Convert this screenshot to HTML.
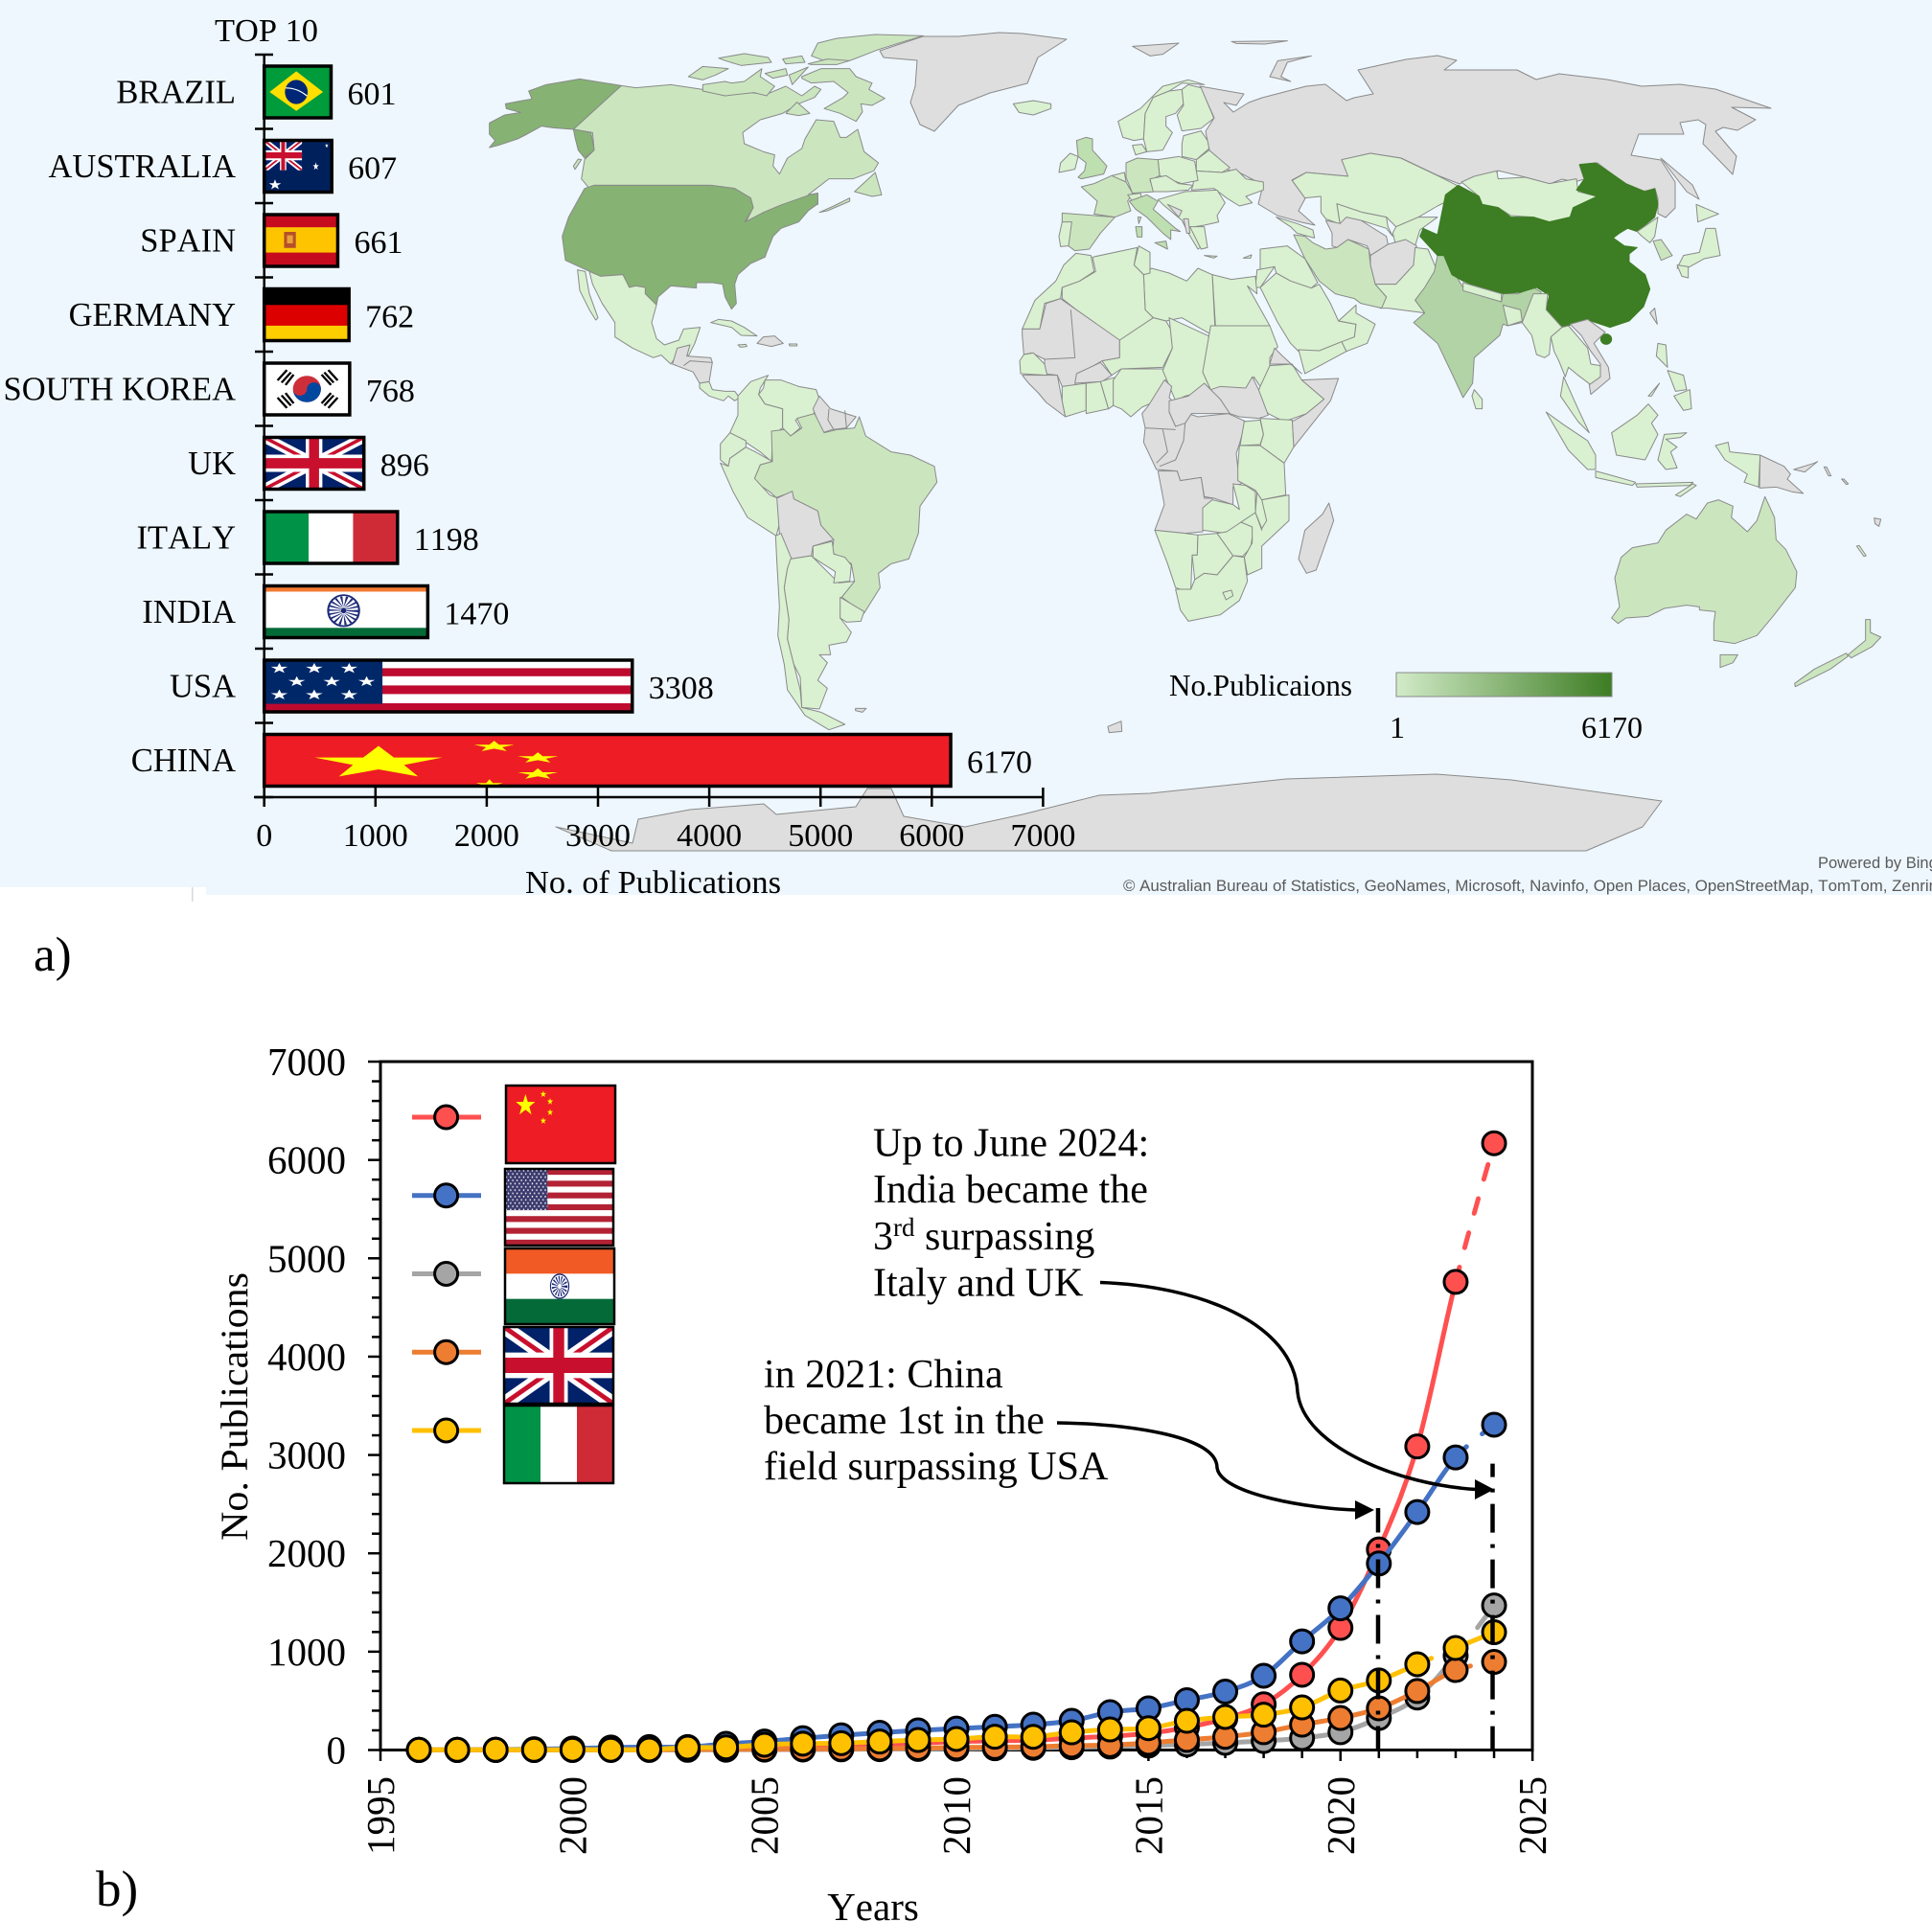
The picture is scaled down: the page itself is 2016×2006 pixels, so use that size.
<!DOCTYPE html>
<html lang="en">
<head>
<meta charset="utf-8">
<title>Publications by country</title>
<style>
html,body{margin:0;padding:0;background:#fff;}
svg{display:block;}
text{font-family:"Liberation Serif",serif;fill:#000;font-kerning:none;}
.credit{font-family:"Liberation Sans",sans-serif;fill:#5a5a5a;}
.map polygon,.map ellipse,.map polyline{stroke:#8a8a8a;stroke-width:1;vector-effect:non-scaling-stroke;stroke-linejoin:round;}
.map polyline{fill:none;}
.g{fill:#dedede;}
.l{fill:#d9f1d0;}
.m{fill:#cbe6bf;}
.h{fill:#bedfb0;}
.u{fill:#86b274;}
.i{fill:#b1d3a5;}
.c{fill:#3d7d23;stroke:#3d7d23 !important;}
</style>
</head>
<body>
<svg id="figure" xmlns="http://www.w3.org/2000/svg" width="2016" height="2006" viewBox="0 0 2016 2006">
<defs>
<linearGradient id="legend-gradient" x1="0" x2="1" y1="0" y2="0">
<stop offset="0" stop-color="#d2ebc8"/>
<stop offset="1" stop-color="#3d7d23"/>
</linearGradient>
<symbol id="star" viewBox="0 0 10 10" preserveAspectRatio="none"><polygon points="5,0 6.2,3.6 10,3.6 7,5.9 8.1,9.5 5,7.3 1.9,9.5 3,5.9 0,3.6 3.8,3.6"/></symbol>
<symbol id="flag-uk" viewBox="0 0 60 30" preserveAspectRatio="none">
<rect width="60" height="30" fill="#012169"/>
<path d="M0,0L60,30M60,0L0,30" stroke="#fff" stroke-width="6"/>
<path d="M0,0L60,30M60,0L0,30" stroke="#c8102e" stroke-width="2"/>
<path d="M30,0V30M0,15H60" stroke="#fff" stroke-width="10"/>
<path d="M30,0V30M0,15H60" stroke="#c8102e" stroke-width="6"/>
</symbol>
<symbol id="flag-brazil" viewBox="0 0 100 90" preserveAspectRatio="none">
<rect width="100" height="90" fill="#009b3a"/>
<polygon points="8,45 48,9 88,45 48,78" fill="#fedf00"/>
<ellipse cx="48" cy="45" rx="17" ry="21" fill="#002776"/>
<path d="M32,38Q50,38 64,52" stroke="#fff" stroke-width="2" fill="none"/>
</symbol>
<symbol id="flag-australia" viewBox="0 0 100 90" preserveAspectRatio="none">
<rect width="100" height="90" fill="#00205b"/>
<use href="#flag-uk" width="56" height="52"/>
<use href="#star" x="7" y="68" width="18" height="18" fill="#fff"/>
<use href="#star" x="72" y="38" width="9" height="14" fill="#fff"/>
<use href="#star" x="90" y="5" width="5" height="8" fill="#fff"/>
</symbol>
<symbol id="flag-spain" viewBox="0 0 100 90" preserveAspectRatio="none">
<rect width="100" height="90" fill="#c60b1e"/>
<rect y="22" width="100" height="44" fill="#ffc400"/>
<rect x="27" y="30" width="16" height="28" fill="#b5502a"/>
<rect x="31" y="36" width="8" height="14" fill="#e8a33a"/>
</symbol>
<symbol id="flag-germany" viewBox="0 0 100 90" preserveAspectRatio="none">
<rect width="100" height="90" fill="#000"/>
<rect y="28" width="100" height="62" fill="#dd0000"/>
<rect y="64" width="100" height="26" fill="#ffce00"/>
</symbol>
<symbol id="flag-korea" viewBox="0 0 128 90" preserveAspectRatio="none">
<rect width="128" height="90" fill="#fff"/>
<ellipse cx="64" cy="45" rx="21" ry="23" fill="#cd2e3a"/>
<path d="M43,45A21,23 0 0 0 85,45A10.500,11.500 0 0 0 64,45A10.500,11.500 0 0 1 43,45Z" fill="#0047a0"/>
<g stroke="#000" stroke-width="3.500">
<path d="M20,30L34,12M26,34L40,16M32,38L44,20"/>
<path d="M90,16L104,34M96,12L110,30M86,20L100,38"/>
<path d="M20,60L34,78M26,56L40,74M32,52L44,70"/>
<path d="M90,74L104,56M96,78L110,60M86,70L100,52"/>
</g>
</symbol>
<symbol id="flag-italy" viewBox="0 0 3 2" preserveAspectRatio="none">
<rect width="1" height="2" fill="#009246"/>
<rect x="1" width="1" height="2" fill="#fff"/>
<rect x="2" width="1" height="2" fill="#ce2b37"/>
</symbol>
<symbol id="flag-india-bar" viewBox="0 0 243 90" preserveAspectRatio="none">
<rect width="243" height="90" fill="#fff"/>
<rect width="243" height="10" fill="#f47a32"/>
<rect y="73" width="243" height="17" fill="#046a38"/>
<ellipse cx="118" cy="43" rx="23" ry="27" fill="#fff" stroke="#1c2a78" stroke-width="3"/>
<ellipse cx="118" cy="43" rx="13" ry="16" fill="none" stroke="#1c2a78" stroke-width="18" stroke-dasharray="2 3"/>
<ellipse cx="118" cy="43" rx="4" ry="5" fill="#1c2a78"/>
</symbol>
<symbol id="flag-usa-bar" viewBox="0 0 548 90" preserveAspectRatio="none">
<rect width="548" height="90" fill="#fff"/>
<rect y="14" width="548" height="14" fill="#bf0a30"/>
<rect y="44" width="548" height="15" fill="#bf0a30"/>
<rect y="75" width="548" height="15" fill="#bf0a30"/>
<rect width="176" height="76" fill="#002868"/>
<g fill="#fff">
<use href="#star" x="10" y="5" width="25" height="18"/>
<use href="#star" x="62" y="5" width="25" height="18"/>
<use href="#star" x="114" y="5" width="25" height="18"/>
<use href="#star" x="36" y="28" width="25" height="18"/>
<use href="#star" x="88" y="28" width="25" height="18"/>
<use href="#star" x="140" y="28" width="25" height="18"/>
<use href="#star" x="10" y="51" width="25" height="18"/>
<use href="#star" x="62" y="51" width="25" height="18"/>
<use href="#star" x="114" y="51" width="25" height="18"/>
</g>
</symbol>
<symbol id="flag-china-bar" viewBox="0 0 1021 90" preserveAspectRatio="none">
<rect width="1021" height="90" fill="#ee1c25"/>
<g fill="#ffff00">
<use href="#star" x="75" y="20" width="190" height="56"/>
<use href="#star" x="312" y="11" width="60" height="19"/>
<use href="#star" x="377" y="31" width="60" height="19"/>
<use href="#star" x="377" y="59" width="60" height="19"/>
<use href="#star" x="315" y="78" width="40" height="18"/>
</g>
</symbol>
<symbol id="flag-china" viewBox="0 0 255 137" preserveAspectRatio="none">
<rect width="255" height="137" fill="#ee1c25"/>
<g fill="#ffff00">
<use href="#star" x="23" y="15" width="45" height="38"/>
<use href="#star" x="80" y="9" width="14" height="12"/>
<use href="#star" x="96" y="22" width="14" height="12"/>
<use href="#star" x="96" y="41" width="14" height="12"/>
<use href="#star" x="80" y="56" width="14" height="12"/>
</g>
</symbol>
<pattern id="union-stars" width="10" height="11" patternUnits="userSpaceOnUse"><circle cx="3" cy="3" r="1.600" fill="#fff"/><circle cx="8" cy="8.500" r="1.600" fill="#fff"/></pattern>
<symbol id="flag-usa" viewBox="0 0 250 130" preserveAspectRatio="none">
<rect width="250" height="130" fill="#fff"/>
<g fill="#b22234">
<rect y="0" width="250" height="10"/><rect y="20" width="250" height="10"/><rect y="40" width="250" height="10"/><rect y="60" width="250" height="10"/><rect y="80" width="250" height="10"/><rect y="100" width="250" height="10"/><rect y="120" width="250" height="10"/>
</g>
<rect width="98" height="70" fill="#3c3b6e"/>
<rect width="98" height="70" fill="url(#union-stars)"/>
</symbol>
<symbol id="flag-india" viewBox="0 0 250 132" preserveAspectRatio="none">
<rect width="250" height="132" fill="#fff"/>
<rect width="250" height="44" fill="#f15a24"/>
<rect y="88" width="250" height="44" fill="#046a38"/>
<circle cx="125" cy="66" r="21" fill="#fff" stroke="#1c2a78" stroke-width="2.500"/>
<circle cx="125" cy="66" r="11" fill="none" stroke="#1c2a78" stroke-width="14" stroke-dasharray="2 2.500"/>
</symbol>
</defs>

<!-- map background -->
<rect x="0" y="0" width="2016" height="926" fill="#eef7fe"/>
<rect x="215" y="926" width="1801" height="8" fill="#eef7fe"/>
<rect x="200" y="926" width="1.500" height="15" fill="#d8d8d8"/>

<g class="map">
<!-- original-pixel polygons -->
<polygon class="g" points="580,863 638,888 1655,888 1714,863 1734,836 1577,814 1499,808 1342,813 1200,828 1147,830 1067,850 1007,863 943,852 930,823 905,823 893,842 810,850 797,839 720,845 666,855 660,880"/>
<polygon class="g" points="918,53 963,38 1000,38 1043,34 1067,35 1113,41 1083,60 1072,87 1033,97 1000,110 975,137 960,130 950,107 955,90 957,63 922,60"/>
<polygon class="g" points="1252,90 1298,98 1290,110 1277,107 1287,117 1303,107 1317,102 1363,90 1383,88 1405,105 1413,102 1433,98 1417,73 1467,62 1500,58 1520,63 1507,73 1563,73 1583,73 1603,83 1627,77 1677,83 1713,90 1753,88 1790,93 1848,113 1807,112 1832,125 1813,136 1798,133 1790,137 1812,163 1808,182 1777,150 1780,130 1772,125 1753,128 1757,140 1710,140 1702,162 1733,167 1748,190 1748,217 1738,227 1730,223 1730,207 1727,197 1713,200 1693,190 1667,170 1648,172 1653,187 1643,190 1630,187 1617,192 1592,185 1563,178 1560,188 1537,185 1523,192 1500,183 1462,165 1430,160 1400,167 1407,184 1363,180 1348,188 1362,207 1355,220 1372,235 1358,232 1333,225 1313,213 1318,193 1293,180 1280,177 1262,157 1258,137 1267,123"/>
<polygon class="g" points="1733,165 1766,193 1773,208 1760,200"/>

<!-- zoom-6 traced: North and Central America -->
<g transform="translate(500,30) scale(.33333)">
<polygon class="m" points="445,178 490,185 600,175 700,190 770,210 800,195 900,205 960,180 1010,210 1050,180 1070,190 1050,215 1000,235 950,265 880,285 825,325 830,360 890,385 925,395 920,430 940,455 965,405 1010,375 1020,345 1055,285 1110,290 1130,340 1150,340 1185,315 1205,385 1250,420 1235,445 1170,470 1095,470 1030,520 1060,515 1060,550 1000,560 950,550 890,575 835,605 858,560 850,530 800,500 725,490 360,490 345,500 320,470 330,410 360,380 355,325 295,315"/>
<polygon class="u" points="32,295 80,270 130,262 85,250 82,235 135,225 165,220 155,195 210,175 315,157 445,178 295,315 230,310 195,305 150,330 120,345 60,365 32,372 50,350 32,330"/>
<polygon class="u" points="295,315 350,325 360,380 330,405 310,380 300,340"/>
<polygon class="m" points="1010,150 1070,125 1160,125 1180,150 1230,170 1220,190 1270,218 1230,240 1195,235 1200,260 1180,290 1130,265 1080,250 1140,215 1155,200 1110,165 1040,170 1010,155"/>
<polygon class="m" points="700,175 770,165 790,170 830,165 885,125 880,150 925,180 900,210 860,200 770,210 700,195"/>
<polygon class="m" points="655,150 700,118 780,125 740,145 700,160"/>
<polygon class="m" points="895,140 960,125 965,145 920,155"/>
<polygon class="m" points="970,145 1030,120 980,175"/>
<polygon class="m" points="1060,45 1120,30 1240,18 1390,22 1330,40 1250,65 1160,100 1080,100 1040,85"/>
<polygon class="m" points="750,92 830,78 905,90 915,105 820,115 770,100"/>
<polygon class="m" points="950,95 1010,85 1020,105 960,110"/>
<polygon class="m" points="1030,110 1090,95 1160,100 1120,112 1040,112"/>
<polygon class="m" points="960,265 995,230 1035,265 1000,272"/>
<polygon class="m" points="1175,510 1240,450 1260,520 1230,525"/>
<polygon class="m" points="1065,575 1110,555 1160,530 1160,540 1090,570"/>
<polygon class="m" points="295,430 310,408 320,410 300,440"/>
<polygon class="u" points="360,490 725,490 800,500 850,530 858,560 832,605 890,575 950,550 1035,520 1060,515 1060,548 1030,570 1000,605 945,625 920,650 900,700 895,715 850,735 810,770 800,800 805,860 790,878 770,840 762,800 730,795 680,795 680,812 600,805 560,840 555,865 520,830 520,810 490,805 470,810 450,770 380,775 335,755 270,725 260,650 280,590 330,500"/>
<polygon class="l" points="345,760 380,775 450,770 470,810 490,805 520,810 520,830 555,865 540,920 555,970 580,990 625,975 640,940 692,935 675,985 655,1025 625,1000 620,1020 600,1050 570,1022 545,1030 480,1000 425,965 425,920 385,860 355,800"/>
<polygon class="l" points="308,755 332,760 345,830 372,905 365,912 345,880 315,820"/>
<polygon class="g" points="620,1000 660,990 650,1025 725,1030 730,1045 720,1105 690,1110 670,1075 605,1050"/>
<polyline points="640,1055 660,1040 730,1045"/>
<polygon class="l" points="690,1110 720,1105 730,1130 770,1135 800,1135 815,1155 800,1165 780,1150 765,1165 720,1150 690,1125"/>
<polygon class="l" points="725,920 750,910 790,915 830,935 870,962 820,960 790,935"/>
<polygon class="g" points="870,985 890,965 925,962 952,985 915,995"/>
<polygon class="l" points="810,990 835,988 838,995 818,997"/>
<polygon class="l" points="970,987 995,987 995,993 972,993"/>
<polygon class="l" points="810,1150 850,1105 905,1085 880,1125 875,1145 895,1175 950,1190 950,1250 920,1270 915,1355 880,1325 835,1295 785,1265 810,1210"/>
<polygon class="l" points="895,1100 945,1100 1000,1120 1055,1130 1065,1160 1045,1210 990,1225 1005,1250 975,1275 950,1250 950,1190 895,1175 875,1145 890,1125"/>
<polygon class="g" points="1065,1150 1100,1190 1180,1215 1150,1250 1105,1255 1075,1265 1045,1190"/>
<polyline points="1095,1190 1092,1225 1110,1255"/>
<polyline points="1145,1195 1150,1250"/>
</g>

<!-- zoom-9 traced: South America -->
<g transform="translate(700,400) scale(.33333)">
<polygon class="m" points="262,298 280,255 318,245 315,150 355,145 375,165 410,140 395,110 450,95 480,155 520,145 575,140 590,105 610,165 690,215 750,225 825,260 833,310 780,385 775,470 745,550 690,565 650,595 655,640 605,720 535,670 575,620 565,565 505,530 510,490 470,445 460,400 385,362 380,340 330,358 310,340 265,310"/>
<polygon class="l" points="155,190 185,155 235,180 235,200 185,235 180,260 155,240"/>
<polygon class="l" points="155,250 180,260 185,235 235,200 265,215 318,245 280,255 262,298 310,350 335,360 340,440 330,478 240,420 195,340"/>
<polygon class="g" points="332,360 380,338 385,362 460,400 470,445 510,490 445,510 440,540 375,550 340,470"/>
<polygon class="l" points="328,478 345,470 378,550 365,580 355,640 370,740 365,800 385,880 405,960 410,1015 470,1030 545,1068 495,1085 420,1040 365,960 355,880 335,790 340,700 332,560"/>
<polygon class="l" points="375,550 440,540 510,610 525,625 575,620 535,670 530,735 565,780 550,810 495,820 500,850 465,850 490,875 460,930 490,955 465,1020 410,1015 405,920 385,880 365,800 370,740 355,640 365,580"/>
<polygon class="l" points="445,510 505,495 510,535 545,545 565,570 560,620 510,625 515,590 445,545"/>
<polygon class="l" points="530,670 605,715 595,745 550,748 530,735"/>
<polygon class="g" points="578,1018 612,1018 600,1030 578,1025"/>
<polygon class="g" points="1368,1075 1410,1058 1412,1090 1372,1094"/>
</g>

<!-- zoom-7 traced: Europe, Middle East, North Africa -->
<g transform="translate(1000,30) scale(.33333)">
<polygon class="l" points="172,235 235,225 290,235 290,250 235,270 190,262"/>
<polygon class="g" points="975,150 1000,100 1105,85 1030,105 1010,150 1040,165"/>
<polygon class="g" points="545,55 690,45 640,80 600,85"/>
<polygon class="g" points="855,40 1030,38 960,48 870,46"/>
<polygon class="l" points="500,290 570,250 640,180 720,160 770,175 700,170 660,195 610,215 585,265 580,345 550,350 515,340"/>
<polygon class="l" points="585,265 610,215 660,195 700,190 705,235 680,265 650,275 650,305 670,325 640,380 590,385 580,345"/>
<polygon class="l" points="700,190 720,175 760,185 800,280 760,312 700,320 685,270 705,240"/>
<polygon class="l" points="545,365 575,362 590,385 555,395"/>
<polygon class="l" points="705,335 760,320 780,350 785,375 745,410 700,400 700,360"/>
<polygon class="l" points="745,410 785,380 850,435 825,450 745,445"/>
<polygon class="l" points="745,445 825,450 870,440 900,470 955,480 955,505 900,525 920,545 880,555 840,530 800,500 730,505"/>
<polygon class="l" points="625,410 690,400 740,415 750,475 700,485 630,460"/>
<polygon class="m" points="525,420 560,405 625,410 630,460 600,475 615,510 545,515 525,465"/>
<polygon class="l" points="600,470 650,460 690,485 735,490 720,505 655,510 610,510"/>
<polygon class="l" points="480,460 520,450 525,480 505,478"/>
<polygon class="m" points="385,495 425,485 480,460 525,480 545,515 530,540 540,570 490,590 425,580 435,540"/>
<polygon class="l" points="530,520 570,515 575,530 545,540"/>
<polygon class="h" points="535,540 590,520 625,540 610,565 680,625 695,635 665,630 665,660 640,640 590,590 555,565"/>
<polygon class="h" points="615,670 650,665 655,690"/>
<polygon class="h" points="555,620 575,620 575,652 560,652"/>
<polygon class="m" points="562,590 572,590 565,610"/>
<polygon class="m" points="325,577 490,590 445,640 410,690 365,695 345,680 350,610 325,605"/>
<polygon class="l" points="325,605 355,605 345,680 320,682 315,650"/>
<polygon class="h" points="400,340 420,345 420,380 465,430 455,455 385,470 375,465 395,445 400,420 375,400 370,350"/>
<polygon class="l" points="320,420 350,390 375,400 365,440 315,450"/>
<polygon class="l" points="625,535 710,510 810,505 835,545 810,585 815,605 770,615 740,620 765,680 750,690 720,640 700,600 640,550"/>
<polygon class="g" points="655,550 700,570 690,590"/>
<polygon class="g" points="705,595 720,595 725,640 715,640"/>
<polygon class="l" points="725,620 770,620 780,685 760,690"/>
<polygon class="l" points="770,710 810,712 800,718"/>
<polygon class="l" points="892,718 918,708 915,718"/>
<polygon class="l" points="995,590 1060,610 1110,630 1115,655 1060,640 1040,620"/>
<polygon class="l" points="1045,475 1090,450 1220,462 1200,410 1290,390 1385,405 1500,460 1560,490 1550,520 1520,545 1500,555 1440,590 1370,620 1340,590 1265,575 1185,548 1195,612 1150,595 1135,575 1135,525 1085,530"/>
<polygon class="l" points="1185,548 1265,575 1340,590 1345,620 1360,650 1340,625 1260,600 1210,610 1195,612"/>
<polygon class="g" points="1150,600 1195,610 1215,590 1260,600 1340,650 1345,675 1290,710 1280,680 1220,660 1185,685 1170,680 1170,640"/>
<polygon class="l" points="1370,620 1440,590 1500,590 1445,630 1430,680 1370,680 1360,640"/>
<polygon class="g" points="1290,710 1345,675 1400,660 1435,680 1425,740 1370,800 1305,800 1290,740"/>
<polygon class="l" points="1430,685 1470,690 1500,760 1430,850 1460,890 1345,875 1320,875 1340,840 1305,800 1370,800 1425,740"/>
<polygon class="m" points="1050,645 1085,650 1110,670 1150,690 1185,685 1220,660 1285,690 1290,740 1305,800 1340,840 1325,875 1260,860 1240,845 1180,830 1130,790 1085,720"/>
<polygon class="l" points="945,690 1030,680 1085,720 1125,795 1105,812 1040,790 995,765 990,745 945,755"/>
<polygon class="l" points="935,755 990,745 945,810 930,810"/>
<polygon class="l" points="945,810 995,765 1040,790 1105,812 1130,800 1165,860 1190,915 1245,925 1240,965 1130,1010 1065,1010 1040,985 1000,920"/>
<polygon class="l" points="1065,1005 1130,1008 1200,980 1215,1010 1085,1080"/>
<polygon class="l" points="1190,915 1245,865 1245,890 1305,925 1280,985 1215,1010 1200,980 1240,965 1245,925"/>
<polygon class="l" points="795,770 855,785 930,775 935,830 905,805 975,930 805,930"/>
<polygon class="l" points="580,770 605,750 660,765 715,790 750,750 795,770 805,965 700,905 650,915 610,905 585,880"/>
<polygon class="l" points="550,740 565,680 600,700 600,765 580,770"/>
<polygon class="l" points="325,810 380,790 430,760 420,715 560,685 550,740 580,770 585,880 610,905 515,975 490,975 325,845"/>
<polygon class="l" points="368,703 415,710 425,760 380,790 325,810 320,845 270,860 255,940 200,940 240,850 305,790 330,740"/>
<polygon class="g" points="200,940 255,940 275,860 320,845 505,975 505,1030 450,1040 370,1085 365,1120 325,1120 310,1085 270,1080 270,1035 230,1015 205,1020 200,960"/>
<polyline points="352,880 365,1030 270,1035"/>
<polygon class="l" points="205,1020 235,1015 270,1050 278,1085 195,1080 192,1040"/>
<polygon class="g" points="200,1085 310,1085 325,1165 335,1215 275,1170 250,1140 220,1110"/>
<polygon class="g" points="365,1110 370,1080 445,1045 480,1085 450,1105"/>
<polygon class="l" points="325,1120 400,1110 400,1195 335,1215 325,1165"/>
<polygon class="l" points="400,1110 445,1105 470,1190 400,1205"/>
<polygon class="l" points="445,1105 495,1090 485,1180 470,1190"/>
<polygon class="l" points="485,1180 485,1100 510,1065 640,1065 655,1090 620,1165 575,1185 540,1215 510,1190"/>
<polygon class="l" points="450,1040 505,1030 505,975 610,905 650,915 670,950 670,1000 640,1060 510,1065 480,1085"/>
<polygon class="l" points="660,905 790,965 790,1030 765,1075 790,1130 710,1150 680,1165 640,1070 670,1000"/>
<polygon class="l" points="790,930 975,930 1000,995 975,1030 975,1060 945,1120 925,1090 915,1130 870,1125 790,1130 765,1075"/>
<polygon class="l" points="975,1055 1045,1050 1075,1100 1145,1160 1090,1205 1020,1230 970,1205 930,1155 945,1120"/>
<polygon class="g" points="975,1050 990,1000 1015,1025 1075,1080 1040,1050"/>
<polygon class="g" points="1075,1100 1190,1095 1165,1165 1050,1310 1045,1230 1090,1205 1145,1160"/>
</g>

<!-- zoom-10 traced: central and southern Africa -->
<g transform="translate(1040,260) scale(.33333)">
<polygon class="g" points="455,515 475,490 525,410 548,430 540,465 550,475 540,510 560,555 580,540 600,515 630,525 725,515 780,540 760,610 750,640 755,685 775,730 740,745 740,800 680,780 650,775 640,715 575,725 565,695 500,690 460,605 465,560"/>
<polygon class="g" points="540,475 600,460 650,420 670,440 700,430 780,435 800,400 820,440 850,520 820,530 760,525 730,515 680,515 610,515 590,545 560,555 540,510"/>
<polyline points="670,440 700,470 730,515"/>
<polyline points="465,560 560,565"/>
<polyline points="520,565 535,635 500,670"/>
<polyline points="590,545 585,600 560,660 510,680"/>
<polygon class="g" points="505,695 565,695 575,725 640,715 650,780 675,780 675,808 645,810 645,885 590,890 495,880 525,800"/>
<polygon class="l" points="495,880 590,890 630,895 628,958 612,958 608,1065 590,1070 560,1060 535,985"/>
<polygon class="l" points="645,810 675,785 740,800 760,815 740,735 780,740 810,760 810,825 765,855 720,890 645,880"/>
<polygon class="l" points="630,895 690,890 740,960 690,1020 650,1015 620,1035 612,958 628,958"/>
<polygon class="l" points="690,890 720,885 765,855 805,870 795,935 770,962 740,960"/>
<polygon class="l" points="765,855 810,825 830,880 830,785 915,770 915,850 830,930 830,1000 785,1020 775,965 800,920 800,870"/>
<polygon class="l" points="815,760 830,785 845,850 830,875 810,825"/>
<polygon class="l" points="760,615 825,615 900,670 905,770 830,785 810,755 755,725 755,680"/>
<polygon class="l" points="825,530 925,535 930,620 900,670 825,615 835,580"/>
<polygon class="l" points="775,540 825,535 835,580 825,612 762,615"/>
<polygon class="l" points="560,1065 608,1065 620,1035 650,1015 690,1020 740,960 775,965 785,1040 760,1100 700,1145 600,1165 575,1130"/>
<polygon class="l" points="708,1075 735,1068 740,1085 718,1098"/>
<polygon class="g" points="1040,795 1055,850 1000,1005 970,1015 945,970 965,880 1020,830"/>
</g>

<!-- zoom-8 traced: Asia -->
<g transform="translate(1500,30) scale(.33333)">
<polygon class="l" points="75,480 115,462 185,445 190,470 275,465 350,485 435,470 440,510 500,525 425,560 415,590 350,605 300,590 230,585 190,560 140,550 130,525"/>
<polygon class="i" points="0,710 20,710 50,760 80,810 200,855 205,830 250,830 300,810 325,825 300,860 265,920 220,930 205,925 195,960 115,1030 110,1110 80,1155 50,1090 0,985 -75,920 -40,890 -70,850 -40,810 -10,760"/>
<polygon class="c" points="0,645 25,520 65,490 130,525 140,550 190,560 230,590 300,590 350,605 415,590 425,560 500,525 435,505 460,470 445,425 495,420 540,450 590,485 650,510 680,500 690,550 680,590 625,635 595,625 570,640 550,655 585,680 625,685 600,705 600,730 650,770 665,815 645,870 600,915 540,935 480,915 440,915 400,935 365,920 340,880 350,835 310,810 260,825 190,830 130,810 80,790 45,770 20,710 0,710 -55,650 -45,625"/>
<ellipse class="c" cx="528" cy="972" rx="17" ry="16"/>
<polygon class="l" points="80,795 200,830 200,855 80,820"/>
<polygon class="l" points="205,865 260,880 265,915 220,930"/>
<polygon class="l" points="300,830 345,830 340,880 390,935 355,965 350,1020 335,1030 310,1020 295,960 265,920"/>
<polygon class="l" points="355,965 390,935 410,930 470,1000 480,1050 510,1055 510,1090 480,1115 440,1085 410,1060 400,1090 380,1040 365,1010"/>
<polygon class="l" points="395,1090 440,1190 475,1265 440,1230 385,1150"/>
<polygon class="g" points="415,925 470,910 525,950 490,985 535,1060 540,1095 480,1145 475,1115 510,1090 510,1050 480,1010 450,960"/>
<polygon class="l" points="625,635 690,590 680,650 665,670 640,650"/>
<polygon class="m" points="675,665 700,660 735,710 700,725"/>
<polygon class="l" points="750,750 770,710 820,700 840,625 870,625 885,710 835,720 790,745"/>
<polygon class="l" points="810,550 880,580 815,605"/>
<polygon class="l" points="750,740 785,745 785,780 765,775"/>
<polygon class="g" points="665,890 680,875 688,925"/>
<polygon class="l" points="115,1130 140,1160 140,1190 120,1190 108,1150"/>
<polygon class="l" points="690,985 715,990 720,1060 700,1040 685,1025"/>
<polygon class="l" points="740,1150 790,1130 795,1190 770,1195"/>
<polygon class="l" points="720,1070 770,1085 780,1130 745,1135"/>
<polygon class="l" points="660,1150 695,1110 670,1150"/>
<polygon class="l" points="340,1200 395,1240 470,1290 495,1335 495,1380 470,1380 410,1320"/>
<polygon class="l" points="545,1265 625,1210 660,1175 690,1210 670,1235 690,1270 650,1350 560,1335"/>
<polygon class="l" points="710,1270 780,1265 760,1280 715,1285 750,1310 730,1325 750,1375 715,1380 690,1350"/>
<polygon class="l" points="495,1385 550,1400 620,1420 610,1430 495,1405"/>
<polygon class="l" points="620,1425 800,1420 790,1430 625,1435"/>
<polygon class="l" points="745,1460 800,1425 810,1430 760,1465"/>
<polygon class="l" points="870,1305 910,1295 915,1325 1010,1335 1005,1435 960,1420 970,1395 900,1350"/>
<polygon class="g" points="1010,1335 1085,1370 1105,1395 1095,1410 1145,1455 1110,1450 1060,1435 1008,1438"/>
<polygon class="g" points="1115,1380 1180,1360 1190,1355 1150,1388"/>
</g>

<!-- zoom-11 traced: Australia and New Zealand -->
<g transform="translate(1480,340) scale(.33333)">
<polygon class="m" points="605,915 630,880 615,790 635,725 670,695 750,680 775,640 840,590 870,605 905,555 940,545 985,565 980,600 1030,645 1060,610 1085,535 1115,600 1120,670 1150,700 1185,770 1180,820 1110,910 1060,970 990,995 925,985 925,930 930,895 880,890 880,880 840,875 770,885 720,910 650,915 625,932"/>
<polygon class="m" points="945,1030 1000,1030 985,1055 945,1070"/>
<polygon class="m" points="1345,1030 1400,985 1400,920 1415,920 1415,960 1448,975 1420,1005 1355,1040"/>
<polygon class="m" points="1178,1120 1240,1075 1340,1025 1345,1035 1290,1075 1180,1130"/>
<polygon class="l" points="1372,690 1380,688 1402,720 1395,722"/>
<polygon class="g" points="1270,442 1278,442 1292,470 1284,470"/>
<polygon class="g" points="1325,480 1332,480 1346,495 1340,497"/>
<polygon class="g" points="1427,602 1448,606 1442,628 1430,620"/>
</g>
</g>

<!-- map legend and attribution -->
<text x="1220" y="726" font-size="32" textLength="191" lengthAdjust="spacingAndGlyphs">No.Publicaions</text>
<rect x="1457" y="702" width="225" height="25" fill="url(#legend-gradient)" stroke="#8a8a8a" stroke-width="1"/>
<text x="1458" y="770" font-size="32" text-anchor="middle">1</text>
<text x="1682" y="770" font-size="32" text-anchor="middle">6170</text>
<text class="credit" x="1897" y="906" font-size="16.500">Powered by Bing</text>
<text class="credit" x="1172" y="930" font-size="16.500" textLength="850" lengthAdjust="spacingAndGlyphs">© Australian Bureau of Statistics, GeoNames, Microsoft, Navinfo, Open Places, OpenStreetMap, TomTom, Zenrin</text>

<!-- bar chart, filled in by script -->
<g id="bar-chart"></g>
<text x="224" y="43" font-size="34" textLength="108" lengthAdjust="spacingAndGlyphs">TOP 10</text>
<text x="548" y="932" font-size="34" textLength="267" lengthAdjust="spacingAndGlyphs">No. of Publications</text>
<text x="35" y="1013" font-size="51">a)</text>

<!-- line chart, filled in by script -->
<g id="line-chart"></g>

<g>
<use href="#flag-china" x="528" y="1133" width="114" height="81"/>
<rect x="528" y="1133" width="114" height="81" fill="none" stroke="#000" stroke-width="2.500"/>
<use href="#flag-usa" x="527" y="1220" width="113" height="80"/>
<rect x="527" y="1220" width="113" height="80" fill="none" stroke="#000" stroke-width="2.500"/>
<use href="#flag-india" x="527" y="1303" width="114" height="79"/>
<rect x="527" y="1303" width="114" height="79" fill="none" stroke="#000" stroke-width="2.500"/>
<use href="#flag-uk" x="526" y="1385" width="114" height="80"/>
<rect x="526" y="1385" width="114" height="80" fill="none" stroke="#000" stroke-width="2.500"/>
<use href="#flag-italy" x="526" y="1467" width="114" height="81"/>
<rect x="526" y="1467" width="114" height="81" fill="none" stroke="#000" stroke-width="2.500"/>
</g>

<g>
<text x="911" y="1206.500" font-size="42">Up to June 2024:</text>
<text x="911" y="1255" font-size="42">India became the</text>
<text x="911" y="1304" font-size="42">3<tspan font-size="27" dy="-14">rd</tspan><tspan dy="14"> surpassing</tspan></text>
<text x="911" y="1352.500" font-size="42">Italy and UK</text>
<path d="M1148,1338.500C1250,1342 1350,1380 1354,1453C1360,1510 1460,1550 1541,1554.500" fill="none" stroke="#000" stroke-width="3.500"/>
<polygon points="1559,1554.500 1539,1544 1539,1565"/>
</g>
<g>
<text x="797" y="1448" font-size="42">in 2021: China</text>
<text x="797" y="1496" font-size="42">became 1st in the</text>
<text x="797" y="1544" font-size="42">field surpassing USA</text>
<path d="M1103,1485C1170,1486 1270,1497 1270,1532C1274,1560 1370,1575 1416,1576" fill="none" stroke="#000" stroke-width="3.500"/>
<polygon points="1434,1576 1414,1566 1414,1586"/>
</g>
<line x1="1438" y1="1574" x2="1438" y2="1827" stroke="#000" stroke-width="4.500" stroke-dasharray="30 12 4 12" stroke-dashoffset="4.500"/>
<line x1="1557.500" y1="1527.600" x2="1557.500" y2="1827" stroke="#000" stroke-width="4.500" stroke-dasharray="30 12 4 12" stroke-dashoffset="16"/>
<text x="100" y="1989" font-size="53">b)</text>

<script>
// Bar chart data
const barCountries = ['BRAZIL', 'AUSTRALIA', 'SPAIN', 'GERMANY', 'SOUTH KOREA', 'UK', 'ITALY', 'INDIA', 'USA', 'CHINA'];
const barValues = [601, 607, 661, 762, 768, 896, 1198, 1470, 3308, 6170];
const barFlags = ['flag-brazil', 'flag-australia', 'flag-spain', 'flag-germany', 'flag-korea', 'flag-uk', 'flag-italy', 'flag-india-bar', 'flag-usa-bar', 'flag-china-bar'];
const barTickLabels = [0, 1000, 2000, 3000, 4000, 5000, 6000, 7000];

// Line chart data
const years = [1996, 1997, 1998, 1999, 2000, 2001, 2002, 2003, 2004, 2005, 2006, 2007, 2008, 2009, 2010, 2011, 2012, 2013, 2014, 2015, 2016, 2017, 2018, 2019, 2020, 2021, 2022, 2023, 2024];
const chinaValues = [1, 1, 1, 1, 2, 3, 5, 8, 12, 20, 28, 40, 55, 70, 85, 95, 100, 120, 140, 170, 230, 320, 465, 765, 1242, 2040, 3087, 4760, 6170];
const usaValues = [3, 3, 4, 8, 15, 25, 30, 31, 63, 87, 120, 150, 175, 200, 218, 236, 258, 297, 385, 424, 507, 594, 755, 1105, 1441, 1897, 2420, 2975, 3308];
const indiaValues = [0, 0, 0, 0, 1, 1, 1, 2, 3, 4, 5, 7, 9, 11, 14, 18, 22, 28, 35, 45, 57, 73, 92, 122, 181, 326, 534, 960, 1470];
const ukValues = [1, 1, 1, 1, 2, 2, 3, 4, 6, 8, 10, 12, 15, 20, 25, 30, 33, 45, 50, 73, 103, 134, 181, 258, 326, 424, 600, 813, 896];
const italyValues = [2, 2, 2, 2, 3, 3, 5, 24, 27, 54, 65, 70, 86, 102, 112, 135, 134, 180, 209, 222, 297, 336, 359, 433, 605, 707, 872, 1037, 1198];
const seriesNames = ['china', 'usa', 'india', 'uk', 'italy'];
const yTickLabels = [0, 1000, 2000, 3000, 4000, 5000, 6000, 7000];
const xTickLabels = [1995, 2000, 2005, 2010, 2015, 2020, 2025];

const seriesColors = ['#ff5050', '#4472c4', '#a5a5a5', '#ed7d31', '#ffc000'];
const seriesData = [chinaValues, usaValues, indiaValues, ukValues, italyValues];
const NS = 'http://www.w3.org/2000/svg';

function make(parent, tag, attrs, text) {
  const el = document.createElementNS(NS, tag);
  for (const key in attrs) el.setAttribute(key, attrs[key]);
  if (text !== undefined) el.textContent = text;
  parent.appendChild(el);
  return el;
}

// Bar chart axes
const barX = v => 275.7 + v * 0.1161;
const barBandTop = i => 57 + i * 77.5;
const barGroup = document.getElementById('bar-chart');

barCountries.forEach((country, i) => {
  const top = barBandTop(i);
  const bar = make(barGroup, 'use', { href: '#' + barFlags[i], x: barX(0), y: top + 12, width: barX(barValues[i]) - barX(0), height: 54 });
  
  
  const border = make(barGroup, 'rect', { x: barX(0), y: top + 12, width: barX(barValues[i]) - barX(0), height: 54, fill: 'none', stroke: '#000', 'stroke-width': 3.5 });
  
  
  const label = make(barGroup, 'text', { x: 246, y: top + 50.5, 'font-size': 34.5, 'text-anchor': 'end' }, country);
  
  
  const value = make(barGroup, 'text', { x: barX(barValues[i]) + 17, y: top + 52, 'font-size': 34 }, barValues[i]);
  
  
});

for (let i = 0; i <= barCountries.length; i++) {
  const tick = make(barGroup, 'line', { x1: 266, x2: 285, y1: barBandTop(i), y2: barBandTop(i), stroke: '#000', 'stroke-width': 2.5 });
  
  
}
const barYAxis = make(barGroup, 'line', { x1: barX(0), x2: barX(0), y1: 57, y2: 842, stroke: '#000', 'stroke-width': 2.5 });


const barXAxis = make(barGroup, 'line', { x1: 265, x2: barX(7000), y1: 832, y2: 832, stroke: '#000', 'stroke-width': 2.5 });


barTickLabels.forEach(v => {
  const tick = make(barGroup, 'line', { x1: barX(v), x2: barX(v), y1: 822, y2: 842, stroke: '#000', 'stroke-width': 2.5 });
  
  
  const label = make(barGroup, 'text', { x: barX(v), y: 883, 'font-size': 34, 'text-anchor': 'middle' }, v);
  
  
});

// Line chart axes
const lineX = year => 397 + (year - 1995) * 40.07;
const lineY = v => 1826.5 - v * 0.10264;
const lineGroup = document.getElementById('line-chart');

const plotFrame = make(lineGroup, 'rect', { x: 397, y: 1108, width: 1202, height: 718.5, fill: '#fff', stroke: '#000', 'stroke-width': 3 });



for (let v = 0; v <= 7000; v += 200) {
  const major = v % 1000 === 0;
  const tick = make(lineGroup, 'line', { x1: major ? 384 : 388, x2: 397, y1: lineY(v), y2: lineY(v), stroke: '#000', 'stroke-width': 2.5 });
  
  
}
yTickLabels.forEach(v => {
  const label = make(lineGroup, 'text', { x: 361, y: lineY(v) + 14, 'font-size': 41, 'text-anchor': 'end' }, v);
  
  
});
for (let y = 1995; y <= 2025; y++) {
  const major = (y % 5 === 0);
  const tick = make(lineGroup, 'line', { x1: lineX(y), x2: lineX(y), y1: 1826.5, y2: major ? 1838 : 1835, stroke: '#000', 'stroke-width': 2.5 });
  
  
}
xTickLabels.forEach(y => {
  const label = make(lineGroup, 'text', { transform: 'translate(' + (lineX(y) + 14) + ',1854) rotate(-90)', 'font-size': 41, 'text-anchor': 'end' }, y);
  
  
});
const yTitle = make(lineGroup, 'text', { transform: 'translate(258,1468) rotate(-90)', 'font-size': 40, 'text-anchor': 'middle', textLength: 280, lengthAdjust: 'spacingAndGlyphs' }, 'No. Publications');


const xTitle = make(lineGroup, 'text', { x: 911, y: 2004, 'font-size': 41, 'text-anchor': 'middle' }, 'Years');



function segmentPath(values, i) {
  const pts = values.map((v, k) => [lineX(years[k]), lineY(v)]);
  const p0 = pts[Math.max(i - 1, 0)], p1 = pts[i], p2 = pts[i + 1], p3 = pts[Math.min(i + 2, pts.length - 1)];
  const c1 = [p1[0] + (p2[0] - p0[0]) / 6, p1[1] + (p2[1] - p0[1]) / 6];
  const c2 = [p2[0] - (p3[0] - p1[0]) / 6, p2[1] - (p3[1] - p1[1]) / 6];
  return 'M' + p1[0] + ',' + p1[1] + 'C' + c1[0] + ',' + c1[1] + ' ' + c2[0] + ',' + c2[1] + ' ' + p2[0] + ',' + p2[1];
}

seriesData.forEach((values, s) => {
  const name = seriesNames[s];
  const g = make(lineGroup, 'g', {});
  
  
  for (let i = 0; i < values.length - 1; i++) {
    const isItaly = name === 'italy';
    const dashed = isItaly ? i === values.length - 3 : i === values.length - 2;
    const seg = make(g, 'path', { d: segmentPath(values, i), fill: 'none', stroke: seriesColors[s], 'stroke-width': 5, 'stroke-linecap': 'round' });
    if (dashed) seg.setAttribute('stroke-dasharray', '16 21');
    
    
  }
  values.forEach((v, i) => {
    const point = make(g, 'circle', { cx: lineX(years[i]), cy: lineY(v), r: 12, fill: seriesColors[s], stroke: '#000', 'stroke-width': 3 });
    
    
  });
  const legendY = 1166 + s * 81.75;
  const legendLine = make(lineGroup, 'line', { x1: 430, x2: 502, y1: legendY, y2: legendY, stroke: seriesColors[s], 'stroke-width': 5 });
  
  
  const legendMarker = make(lineGroup, 'circle', { cx: 465.6, cy: legendY, r: 12, fill: seriesColors[s], stroke: '#000', 'stroke-width': 3 });
  
  
});
</script>
</svg>
</body>
</html>
